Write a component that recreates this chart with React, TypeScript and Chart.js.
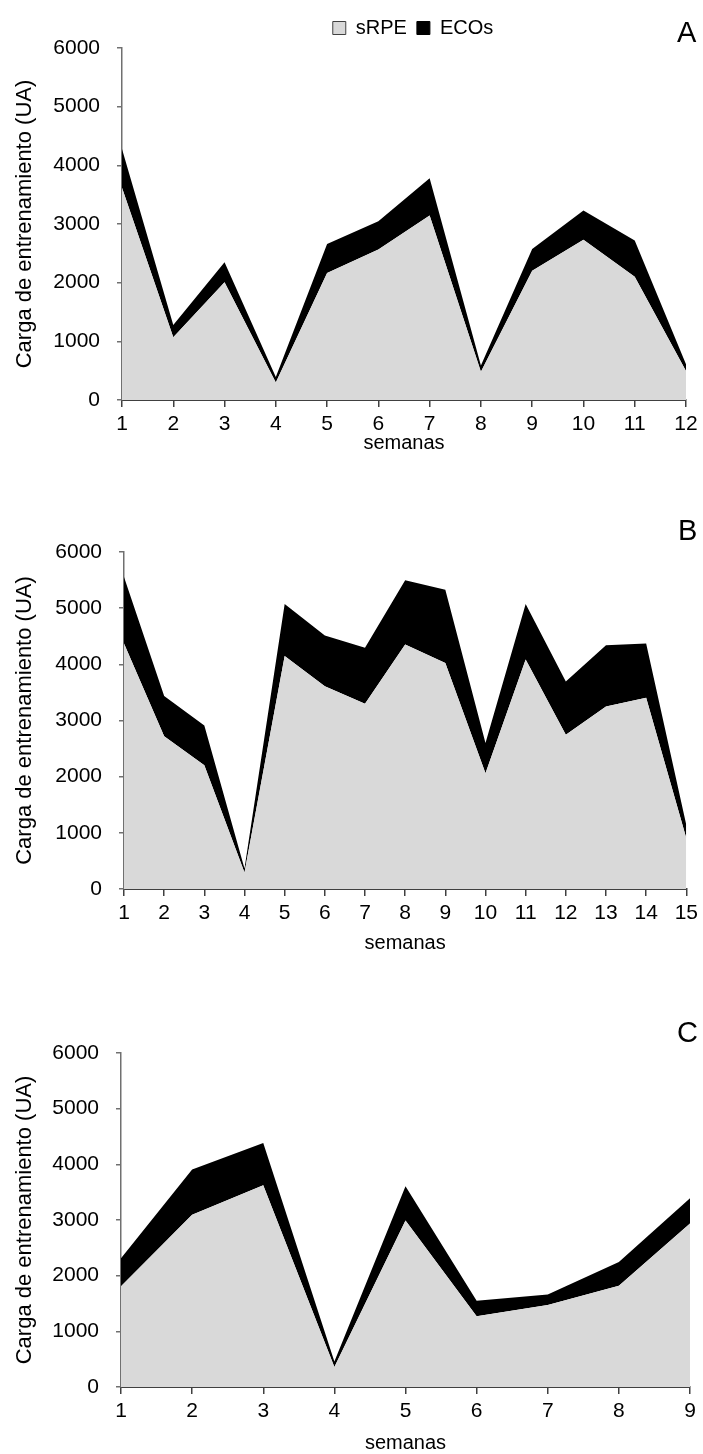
import React, { useEffect, useRef } from 'react';
import { Chart, registerables } from 'chart.js';

Chart.register(...registerables);

// ---- Data ----
const weeksA = ['1', '2', '3', '4', '5', '6', '7', '8', '9', '10', '11', '12'];
const srpeA = [3620, 1070, 2005, 300, 2165, 2565, 3145, 480, 2205, 2730, 2100, 495];
const ecosA = [660, 210, 345, 90, 495, 480, 635, 110, 370, 500, 620, 115];

const weeksB = ['1', '2', '3', '4', '5', '6', '7', '8', '9', '10', '11', '12', '13', '14', '15'];
const srpeB = [4370, 2720, 2205, 295, 4150, 3610, 3300, 4355, 4025, 2060, 4085, 2745, 3250, 3405, 905];
const ecosB = [1185, 715, 705, 70, 925, 905, 995, 1140, 1305, 540, 990, 950, 1090, 965, 235];

const weeksC = ['1', '2', '3', '4', '5', '6', '7', '8', '9'];
const srpeC = [1810, 3095, 3625, 360, 2990, 1270, 1475, 1820, 2935];
const ecosC = [505, 810, 760, 100, 615, 280, 185, 425, 455];

const yTicks = [0, 1000, 2000, 3000, 4000, 5000, 6000];
const seriesNames = ['sRPE', 'ECOs'];
const xTitle = 'semanas';
const yTitle = 'Carga de entrenamiento (UA)';

// ---- Styles ----
const FONT = "'Liberation Sans', Arial, Helvetica, sans-serif";
const GRAY = '#d9d9d9';
const BLACK = '#000000';

type PanelProps = {
  top: number;
  height: number;
  labels: string[];
  srpe: number[];
  ecos: number[];
  axisLeft: number;
  padRight: number;
  padTop: number;
  xHeight: number;
  titlePadBottom: number;
  legend: boolean;
};

const legendShift = {
  id: 'legendShift',
  afterLayout(chart: any) {
    if (chart.legend && chart.options.plugins.legend.display) {
      chart.legend.left += 9;
      chart.legend.right += 9;
    }
  },
};

function Panel(p: PanelProps) {
  const ref = useRef<HTMLCanvasElement | null>(null);
  useEffect(() => {
    if (!ref.current) return;
    const chart = new Chart(ref.current, {
      type: 'line',
      data: {
        labels: p.labels,
        datasets: [
          {
            label: seriesNames[0],
            data: p.srpe,
            backgroundColor: GRAY,
            borderColor: 'rgba(0,0,0,0)',
            borderWidth: 0,
            pointRadius: 0,
            pointHoverRadius: 0,
            fill: 'origin',
            tension: 0,
          },
          {
            label: seriesNames[1],
            data: p.ecos,
            backgroundColor: BLACK,
            borderColor: 'rgba(0,0,0,0)',
            borderWidth: 0,
            pointRadius: 0,
            pointHoverRadius: 0,
            fill: '-1',
            tension: 0,
          },
        ],
      },
      plugins: [legendShift],
      options: {
        animation: false,
        responsive: false,
        devicePixelRatio: 1,
        events: [],
        layout: { padding: { top: p.padTop, right: p.padRight, left: 0, bottom: 0 } },
        plugins: {
          tooltip: { enabled: false },
          legend: p.legend
            ? {
                display: true,
                position: 'top',
                fullSize: false,
                labels: {
                  boxWidth: 13,
                  boxHeight: 13,
                  padding: 10,
                  color: '#000',
                  font: { family: FONT, size: 20 },
                  generateLabels: () => [
                    { text: seriesNames[0], fillStyle: GRAY, strokeStyle: '#404040', lineWidth: 1, hidden: false, datasetIndex: 0 },
                    { text: seriesNames[1], fillStyle: BLACK, strokeStyle: BLACK, lineWidth: 1, hidden: false, datasetIndex: 1 },
                  ],
                },
              }
            : { display: false },
        },
        scales: {
          x: {
            type: 'category',
            offset: false,
            grid: { drawOnChartArea: false, drawTicks: true, tickLength: 7, color: '#404040', lineWidth: 1.5 },
            border: { display: true, color: '#404040', width: 2 },
            ticks: { color: '#000', font: { family: FONT, size: 21 }, padding: 5, maxRotation: 0, autoSkip: false },
            title: {
              display: true,
              text: xTitle,
              color: '#000',
              font: { family: FONT, size: 20 },
              padding: { top: 0, bottom: p.titlePadBottom },
            },
            afterFit: (s: any) => {
              s.height = p.xHeight;
            },
          },
          y: {
            stacked: true,
            min: 0,
            max: 6000,
            afterBuildTicks: (s: any) => {
              s.ticks = yTicks.map((v) => ({ value: v }));
            },
            ticks: {
              color: '#000',
              font: { family: FONT, size: 21 },
              padding: 17,
              callback: (v: any) => String(v),
            },
            grid: { drawOnChartArea: false, drawTicks: true, tickLength: 5, color: '#707070', lineWidth: 1.5 },
            border: { display: true, color: '#707070', width: 1.5 },
            title: {
              display: true,
              text: yTitle,
              color: '#000',
              font: { family: FONT, size: 22 },
              padding: { top: 12, bottom: 0 },
            },
            afterFit: (s: any) => {
              s.width = p.axisLeft;
            },
          },
        },
      } as any,
    });
    return () => chart.destroy();
  }, []);
  return (
    <canvas
      ref={ref}
      width={703}
      height={p.height}
      style={{ position: 'absolute', left: 0, top: p.top, width: 703, height: p.height }}
    />
  );
}

const letterStyle = (top: number, left: number): React.CSSProperties => ({
  position: 'absolute',
  top,
  left,
  fontFamily: FONT,
  fontSize: 29,
  lineHeight: '29px',
  color: '#000',
});

export default function App() {
  return (
    <div
      style={{
        position: 'absolute',
        left: 0,
        top: 0,
        width: 703,
        height: 1454,
        overflow: 'hidden',
        background: '#fff',
      }}
    >
      <Panel top={0} height={470} labels={weeksA} srpe={srpeA} ecos={ecosA} axisLeft={122} padRight={17} padTop={8} xHeight={70} titlePadBottom={15} legend={true} />
      <Panel top={480} height={480} labels={weeksB} srpe={srpeB} ecos={ecosB} axisLeft={124} padRight={15} padTop={72} xHeight={71} titlePadBottom={5} legend={false} />
      <Panel top={980} height={480} labels={weeksC} srpe={srpeC} ecos={ecosC} axisLeft={121} padRight={13} padTop={73} xHeight={73} titlePadBottom={5} legend={false} />
      <div style={letterStyle(18, 677)}>A</div>
      <div style={letterStyle(516, 678)}>B</div>
      <div style={letterStyle(1018, 677)}>C</div>
    </div>
  );
}
